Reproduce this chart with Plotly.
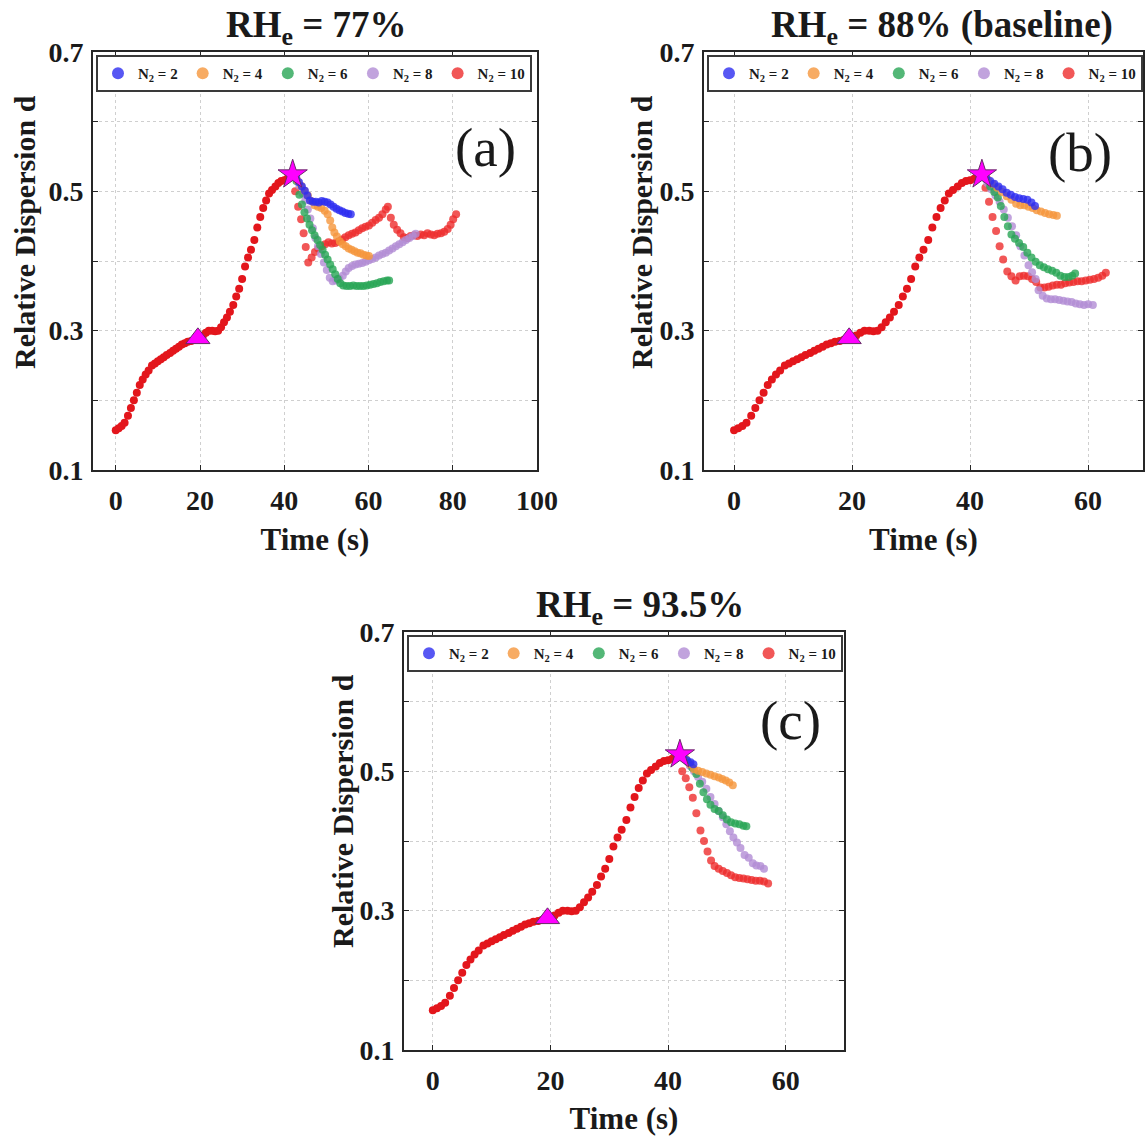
import plotly.graph_objects as go

# ---------------- data ----------------
# shared pre-branch trajectory (red), identical in all three panels
base_t = [0.0, 0.7, 1.4, 2.1, 2.9, 3.6, 4.3, 5.0, 5.7, 6.4, 7.1, 7.8, 8.6, 9.3, 10.0,
          10.7, 11.4, 12.1, 12.9, 13.6, 14.3, 15.0, 15.7, 16.4, 17.1, 17.9, 18.6, 19.3,
          20.0, 20.7, 21.4, 22.1, 22.9, 23.6, 24.3, 25.0, 25.7, 26.4, 27.1, 27.9, 28.6,
          29.3, 30.0, 30.7, 31.4, 32.1, 32.9, 33.6, 34.3, 35.0, 35.7, 36.4, 37.1, 37.9,
          38.6, 39.3, 40.0, 40.7, 41.4, 42.0]
base_d = [0.157, 0.160, 0.163, 0.168, 0.178, 0.189, 0.200, 0.211, 0.222, 0.230, 0.237,
          0.243, 0.250, 0.253, 0.256, 0.259, 0.262, 0.265, 0.268, 0.271, 0.274, 0.277,
          0.280, 0.282, 0.284, 0.285, 0.287, 0.289, 0.290, 0.293, 0.297, 0.300, 0.300,
          0.299, 0.300, 0.305, 0.312, 0.319, 0.327, 0.337, 0.349, 0.360, 0.374, 0.392,
          0.405, 0.416, 0.430, 0.448, 0.463, 0.476, 0.487, 0.497, 0.502, 0.507, 0.512,
          0.515, 0.516, 0.518, 0.520, 0.523]

triangle_t = [19.5]
triangle_d = [0.289]
star_t = [42.0]
star_d = [0.524]

series_names = ["N<sub>2</sub> = 2", "N<sub>2</sub> = 4", "N<sub>2</sub> = 6",
                "N<sub>2</sub> = 8", "N<sub>2</sub> = 10"]

# ---- panel (a): RHe = 77% ----
a_n2_t = [42.8, 43.5, 44.2, 44.9, 45.5, 46.1, 46.8, 47.5, 48.2, 48.9, 49.6, 50.3, 51.0,
          51.7, 52.4, 53.1, 53.8, 54.5, 55.2, 55.8]
a_n2_d = [0.519, 0.513, 0.507, 0.501, 0.494, 0.487, 0.485, 0.485, 0.484, 0.486, 0.485,
          0.484, 0.481, 0.478, 0.475, 0.473, 0.471, 0.469, 0.468, 0.467]
a_n4_t = [43.2, 44.0, 44.8, 45.6, 46.4, 47.2, 48.0, 48.8, 49.6, 50.3, 50.9, 51.4, 51.9,
          52.5, 53.2, 53.9, 54.6, 55.3, 56.0, 56.7, 57.4, 58.1, 58.8, 59.5, 60.1]
a_n4_d = [0.515, 0.508, 0.501, 0.494, 0.486, 0.480, 0.478, 0.476, 0.472, 0.467, 0.458,
          0.448, 0.441, 0.435, 0.428, 0.424, 0.421, 0.418, 0.416, 0.414, 0.412, 0.411,
          0.409, 0.408, 0.407]
a_n6_t = [42.9, 43.6, 44.2, 44.8, 45.4, 46.0, 46.6, 47.2, 47.9, 48.5, 49.1, 49.7, 50.3,
          50.9, 51.5, 52.1, 52.7, 53.3, 54.0, 54.8, 55.6, 56.4, 57.2, 58.0, 58.8, 59.6,
          60.4, 61.2, 62.0, 62.8, 63.6, 64.4, 64.9]
a_n6_d = [0.515, 0.495, 0.481, 0.470, 0.461, 0.452, 0.444, 0.437, 0.430, 0.423, 0.416,
          0.409, 0.402, 0.395, 0.388, 0.381, 0.374, 0.368, 0.365, 0.364, 0.364, 0.365,
          0.364, 0.364, 0.364, 0.365, 0.366, 0.367, 0.368, 0.370, 0.371, 0.372, 0.372]
a_n8_t = [42.9, 43.6, 44.3, 45.0, 45.6, 46.2, 46.8, 47.4, 48.0, 48.7, 49.4, 50.1, 50.8,
          51.5, 52.3, 53.1, 53.9, 54.6, 55.3, 56.1, 56.9, 57.7, 58.5, 59.3, 60.1, 60.9,
          61.7, 62.5, 63.3, 64.1, 64.9, 65.7, 66.5, 67.3, 68.1, 68.9, 69.7, 70.5, 71.2]
a_n8_d = [0.519, 0.508, 0.497, 0.487, 0.474, 0.461, 0.447, 0.433, 0.421, 0.410, 0.398,
          0.387, 0.376, 0.371, 0.372, 0.375, 0.379, 0.385, 0.390, 0.393, 0.395, 0.396,
          0.397, 0.399, 0.401, 0.403, 0.405, 0.408, 0.410, 0.412, 0.415, 0.418, 0.421,
          0.424, 0.427, 0.430, 0.433, 0.436, 0.439]
a_n10_t = [42.6, 43.3, 44.0, 44.6, 45.1, 45.7, 46.5, 47.3, 48.1, 48.9, 49.7, 50.5, 51.3,
           52.1, 52.9, 53.7, 54.5, 55.3, 56.1, 56.9, 57.7, 58.5, 59.3, 60.1, 60.9, 61.7,
           62.5, 63.3, 64.1, 64.6, 65.3, 66.0, 66.8, 67.6, 68.4, 69.2, 70.0, 70.8, 71.6,
           72.4, 73.2, 74.0, 74.8, 75.6, 76.4, 77.2, 78.0, 78.8, 79.5, 80.1, 80.8]
a_n10_d = [0.500, 0.478, 0.460, 0.440, 0.420, 0.398, 0.405, 0.413, 0.418, 0.421, 0.424,
           0.427, 0.425, 0.426, 0.428, 0.431, 0.434, 0.437, 0.439, 0.441, 0.444, 0.447,
           0.449, 0.451, 0.455, 0.459, 0.462, 0.467, 0.474, 0.478, 0.462, 0.452, 0.445,
           0.440, 0.434, 0.433, 0.436, 0.437, 0.436, 0.438, 0.437, 0.440, 0.438, 0.437,
           0.439, 0.440, 0.442, 0.446, 0.452, 0.460, 0.467]

# ---- panel (b): RHe = 88% (baseline) ----
b_n2_t = [42.7, 43.4, 44.1, 44.8, 45.5, 46.2, 46.9, 47.6, 48.3, 49.0, 49.7, 50.4, 51.0]
b_n2_d = [0.520, 0.515, 0.511, 0.507, 0.503, 0.498, 0.495, 0.492, 0.490, 0.489, 0.488,
          0.484, 0.479]
b_n4_t = [43.0, 43.8, 44.6, 45.4, 46.2, 47.0, 47.8, 48.5, 49.2, 49.9, 50.6, 51.3, 52.0,
          52.7, 53.4, 54.1, 54.7]
b_n4_d = [0.517, 0.511, 0.505, 0.499, 0.493, 0.488, 0.482, 0.480, 0.480, 0.478, 0.476,
          0.473, 0.471, 0.469, 0.467, 0.466, 0.465]
b_n6_t = [42.7, 43.4, 44.1, 44.7, 45.2, 45.8, 46.4, 47.0, 47.6, 48.3, 49.0, 49.7, 50.4,
          51.1, 51.8, 52.5, 53.2, 53.9, 54.6, 55.3, 56.0, 56.7, 57.3, 57.8]
b_n6_d = [0.518, 0.507, 0.499, 0.491, 0.479, 0.463, 0.450, 0.438, 0.432, 0.426, 0.420,
          0.412, 0.405, 0.399, 0.394, 0.391, 0.388, 0.386, 0.383, 0.379, 0.377, 0.377,
          0.379, 0.382]
b_n8_t = [42.9, 43.6, 44.3, 45.0, 45.7, 46.4, 47.1, 47.8, 48.5, 49.2, 49.9, 50.5, 51.1,
          51.6, 52.3, 53.0, 53.7, 54.4, 55.1, 55.8, 56.5, 57.2, 57.9, 58.6, 59.3, 60.0,
          60.8]
b_n8_d = [0.512, 0.503, 0.494, 0.485, 0.474, 0.462, 0.450, 0.437, 0.421, 0.408, 0.394,
          0.384, 0.374, 0.358, 0.350, 0.346, 0.345, 0.345, 0.344, 0.343, 0.342, 0.341,
          0.339, 0.338, 0.337, 0.338, 0.337]
b_n10_t = [42.6, 43.2, 43.8, 44.4, 45.0, 45.6, 46.3, 47.0, 47.7, 48.4, 49.1, 49.8, 50.5,
           51.2, 51.9, 52.6, 53.3, 54.0, 54.7, 55.4, 56.1, 56.8, 57.5, 58.2, 58.9, 59.6,
           60.3, 61.0, 61.7, 62.4, 63.0]
b_n10_d = [0.505, 0.485, 0.463, 0.443, 0.421, 0.402, 0.385, 0.378, 0.372, 0.378, 0.379,
           0.378, 0.374, 0.370, 0.362, 0.362, 0.363, 0.365, 0.366, 0.366, 0.368, 0.369,
           0.370, 0.371, 0.371, 0.372, 0.373, 0.374, 0.376, 0.379, 0.383]

# ---- panel (c): RHe = 93.5% ----
c_n2_t = [42.6, 43.2, 43.8, 44.3]
c_n2_d = [0.520, 0.516, 0.513, 0.510]
c_n4_t = [43.0, 43.7, 44.4, 45.1, 45.8, 46.5, 47.2, 47.9, 48.6, 49.2, 49.8, 50.4, 51.0]
c_n4_d = [0.518, 0.510, 0.503, 0.501, 0.499, 0.497, 0.495, 0.493, 0.491, 0.489, 0.487,
          0.484, 0.480]
c_n6_t = [42.7, 43.4, 44.1, 44.8, 45.4, 46.0, 46.6, 47.2, 47.9, 48.6, 49.3, 50.0, 50.7,
          51.4, 52.1, 52.8, 53.3]
c_n6_d = [0.520, 0.513, 0.505, 0.496, 0.482, 0.470, 0.460, 0.452, 0.446, 0.443, 0.437,
          0.431, 0.427, 0.425, 0.424, 0.422, 0.421]
c_n8_t = [43.0, 43.7, 44.4, 45.1, 45.8, 46.5, 47.2, 47.9, 48.6, 49.3, 49.9, 50.5, 51.1,
          51.7, 52.3, 53.0, 53.7, 54.4, 55.0, 55.7, 56.3]
c_n8_d = [0.516, 0.508, 0.500, 0.492, 0.485, 0.475, 0.463, 0.453, 0.443, 0.434, 0.424,
          0.414, 0.405, 0.398, 0.390, 0.380, 0.376, 0.368, 0.365, 0.364, 0.360]
c_n10_t = [42.4, 43.0, 43.6, 44.2, 44.8, 45.5, 46.1, 46.7, 47.3, 47.9, 48.6, 49.3, 50.0,
           50.7, 51.4, 52.1, 52.8, 53.5, 54.2, 54.9, 55.6, 56.3, 57.0]
c_n10_d = [0.500, 0.490, 0.477, 0.462, 0.440, 0.415, 0.400, 0.385, 0.372, 0.364, 0.360,
           0.357, 0.354, 0.351, 0.348, 0.347, 0.346, 0.345, 0.344, 0.343, 0.343, 0.342,
           0.339]

panel_titles = ["RH<sub>e</sub> = 77%", "RH<sub>e</sub> = 88% (baseline)",
                "RH<sub>e</sub> = 93.5%"]
panel_letters = ["(a)", "(b)", "(c)"]
x_title = "Time (s)"
y_title = "Relative Dispersion d"
x_ticks_a = [0, 20, 40, 60, 80, 100]
x_ticks_bc = [0, 20, 40, 60]

# ---------------- style ----------------
FONT = "Liberation Serif"
INK = "#1a1a1a"
branch_colors = ["rgba(45,45,240,0.8)", "rgba(245,150,60,0.8)", "rgba(40,165,85,0.8)",
                 "rgba(178,140,212,0.8)", "rgba(238,45,45,0.8)"]
base_color = "#E3161C"
W, H = 1145, 1136

panels = [
    dict(series=[(a_n2_t, a_n2_d), (a_n4_t, a_n4_d), (a_n6_t, a_n6_d), (a_n8_t, a_n8_d),
                 (a_n10_t, a_n10_d)],
         xpx=(93, 537), ypx=(52, 470), xr=[-5.4, 100], xt=x_ticks_a,
         title_c=(316, 28), letter=(485, 147), ytitle_c=(25, 232)),
    dict(series=[(b_n2_t, b_n2_d), (b_n4_t, b_n4_d), (b_n6_t, b_n6_d), (b_n8_t, b_n8_d),
                 (b_n10_t, b_n10_d)],
         xpx=(704, 1143), ypx=(52, 470), xr=[-5.1, 69.3], xt=x_ticks_bc,
         title_c=(942, 28), letter=(1080, 152), ytitle_c=(642, 232)),
    dict(series=[(c_n2_t, c_n2_d), (c_n4_t, c_n4_d), (c_n6_t, c_n6_d), (c_n8_t, c_n8_d),
                 (c_n10_t, c_n10_d)],
         xpx=(404, 844), ypx=(632, 1050), xr=[-4.9, 69.9], xt=x_ticks_bc,
         title_c=(640, 607), letter=(790, 720), ytitle_c=(342, 811)),
]

fig = go.Figure()
layout = dict(width=W, height=H, margin=dict(l=0, r=0, t=0, b=0, autoexpand=False),
              paper_bgcolor="white", plot_bgcolor="white",
              font=dict(family=FONT, color=INK), annotations=[])

draw_order = [4, 3, 2, 1, 0]
for i, p in enumerate(panels):
    sfx = "" if i == 0 else str(i + 1)
    xa, ya = "x" + sfx, "y" + sfx
    lg = "legend" + sfx
    for k in draw_order:
        t, d = p["series"][k]
        fig.add_trace(go.Scatter(
            x=t, y=d, mode="markers", name=series_names[k], legend=lg,
            legendrank=k + 1, showlegend=True, xaxis=xa, yaxis=ya,
            marker=dict(size=8, color=branch_colors[k], line=dict(width=0))))
    fig.add_trace(go.Scatter(
        x=base_t, y=base_d, mode="markers", showlegend=False, xaxis=xa, yaxis=ya,
        marker=dict(size=8, color=base_color, line=dict(width=0))))
    fig.add_trace(go.Scatter(
        x=triangle_t, y=triangle_d, mode="markers", showlegend=False, xaxis=xa, yaxis=ya,
        marker=dict(symbol="triangle-up", size=21, color="#FF00FF",
                    line=dict(width=1, color="#6a2a6a"))))
    fig.add_trace(go.Scatter(
        x=star_t, y=star_d, mode="markers", showlegend=False, xaxis=xa, yaxis=ya,
        marker=dict(symbol="star", size=22, color="#FF00FF",
                    line=dict(width=1, color="#6a2a6a"))))

    x0, x1 = p["xpx"]
    y0, y1 = p["ypx"]
    common = dict(showline=True, linecolor="#262626", linewidth=2, mirror="allticks",
                  ticks="inside", ticklen=5, tickwidth=1, tickcolor="#262626",
                  showgrid=True, gridcolor="#cfcfcf", griddash="dot", gridwidth=1,
                  zeroline=False, automargin=False,
                  tickfont=dict(family=FONT, size=28, color=INK, weight="bold"))
    layout["xaxis" + sfx] = dict(
        common, domain=[x0 / W, x1 / W], anchor=ya, range=p["xr"],
        tickvals=p["xt"], ticklabelstandoff=4,
        title=dict(text="<b>" + x_title + "</b>", standoff=14,
                   font=dict(family=FONT, size=31, color=INK)))
    layout["yaxis" + sfx] = dict(
        common, domain=[1 - y1 / H, 1 - y0 / H], anchor=xa, range=[0.1, 0.7],
        tick0=0.1, dtick=0.2, ticklabelstandoff=2,
        minor=dict(dtick=0.1, tick0=0.1, ticks="inside", ticklen=5, tickcolor="#262626",
                   showgrid=True, gridcolor="#cfcfcf", griddash="dot", gridwidth=1))
    layout[lg] = dict(
        x=(x0 + 3) / W, y=1 - (y0 + 3) / H, xanchor="left", yanchor="top",
        orientation="h", bgcolor="white", bordercolor="#3a3a3a", borderwidth=2,
        font=dict(family=FONT, size=15, color=INK, weight="bold"),
        itemwidth=30, itemsizing="constant", traceorder="normal", tracegroupgap=0,
        itemclick=False)
    tx, ty = p["title_c"]
    layout["annotations"].append(dict(
        text="<b>" + panel_titles[i] + "</b>", x=tx / W, y=1 - ty / H, xref="paper",
        yref="paper", xanchor="center", yanchor="middle", showarrow=False,
        font=dict(family=FONT, size=37, color=INK)))
    yx, yy = p["ytitle_c"]
    layout["annotations"].append(dict(
        text="<b>" + y_title + "</b>", x=yx / W, y=1 - yy / H, xref="paper",
        yref="paper", xanchor="center", yanchor="middle", showarrow=False,
        textangle=-90, font=dict(family=FONT, size=30, color=INK)))
    lx, ly = p["letter"]
    layout["annotations"].append(dict(
        text=panel_letters[i], x=lx / W, y=1 - ly / H, xref="paper", yref="paper",
        xanchor="center", yanchor="middle", showarrow=False,
        font=dict(family=FONT, size=55, color=INK)))

fig.update_layout(**layout)
fig.write_html("out.html")
